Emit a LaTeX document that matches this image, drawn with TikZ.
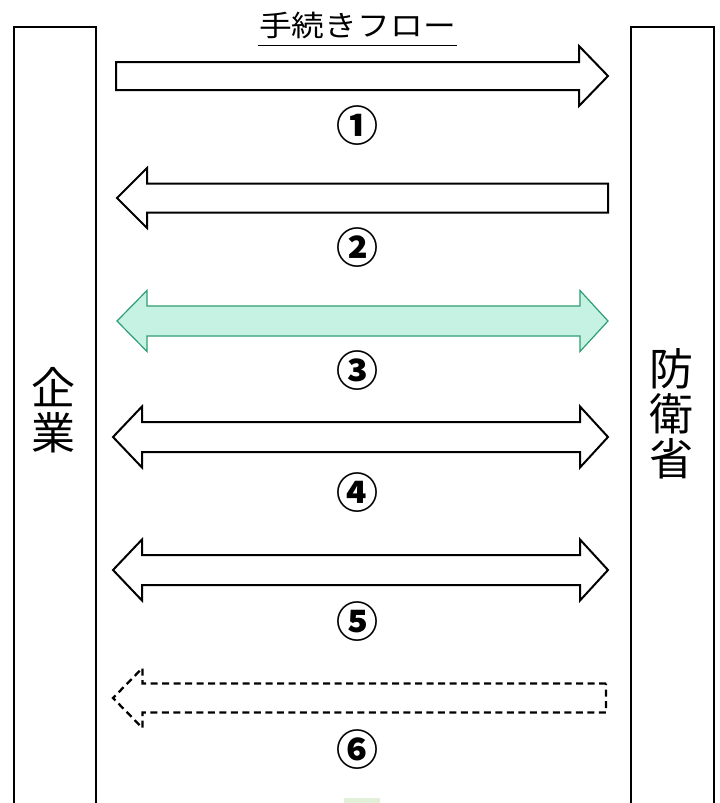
\documentclass[tikz,border=0pt]{standalone}
\usepackage{fontspec}
\setmainfont{Noto Sans CJK JP}
\definecolor{mintfill}{RGB}{198,242,227}
\definecolor{mintline}{RGB}{46,158,115}
\definecolor{palegreen}{RGB}{226,240,217}
\newcommand\myRightArrow[5]{% left, base, tip, y-center, style
  \draw[#5] (#1,#4-14) -- (#2,#4-14) -- (#2,#4-30) -- (#3,#4) -- (#2,#4+30) -- (#2,#4+14) -- (#1,#4+14) -- cycle;}
\newcommand\myLeftArrow[5]{% right, base, tip, y-center, style
  \draw[#5] (#1,#4-14.5) -- (#2,#4-14.5) -- (#2,#4-30) -- (#3,#4) -- (#2,#4+30) -- (#2,#4+14.5) -- (#1,#4+14.5) -- cycle;}
\newcommand\myDblArrow[6]{% ltip, lbase, rbase, rtip, y-center, style
  \draw[#6] (#1,#5) -- (#2,#5-30.5) -- (#2,#5-15) -- (#3,#5-15) -- (#3,#5-30.5) -- (#4,#5) -- (#3,#5+30.5) -- (#3,#5+15) -- (#2,#5+15) -- (#2,#5+30.5) -- cycle;}
\begin{document}
\begin{tikzpicture}[x=1pt,y=-1pt,
  blk/.style={draw=black,line width=2pt,line join=miter,fill=white},
  mint/.style={draw=mintline,line width=1.2pt,line join=miter,fill=mintfill},
  dsh/.style={draw=black,line width=2.3pt,line join=miter,dash pattern=on 7pt off 4.5pt},
  sidebox/.style={draw=black,line width=2pt,minimum width=82.5pt,minimum height=800pt,anchor=north west,inner sep=0pt},
  sidetext/.style={font=\fontsize{44}{45}\selectfont,align=center,inner sep=0pt},
  num/.style={font=\fontsize{42}{42}\selectfont\bfseries,inner sep=0pt}]
\useasboundingbox (0,0) rectangle (720,803);
\clip (0,0) rectangle (720,803);
\fill[white] (0,0) rectangle (720,803);
% side boxes
\node[sidebox] (kigyo) at (12.5,26) {};
\node[sidebox] (boei) at (630,26) {};
\node[sidetext] (kigyoT) at (53.5,410) {企\\業};
\node[sidetext] (boeiT) at (671,414) {防\\衛\\省};
% title
\node[inner sep=0pt,font=\fontsize{29}{29}\selectfont] (title) at (357.5,25) {\scalebox{1.13}[1]{手続きフロー}};
\draw[line width=1.4pt] (258,45.5) -- (457,45.5);
% arrows
\myRightArrow{116}{579}{608}{76}{blk}
\myLeftArrow{608}{147}{117}{198}{blk}
\myDblArrow{117}{147}{580}{608}{321}{mint}
\myDblArrow{113}{142}{580}{608}{437}{blk}
\myDblArrow{113}{142}{580}{608}{570}{blk}
\myLeftArrow{606}{142.5}{113}{698}{dsh}
% numbers
\node[num] (n1) at (357,126) {①};
\node[num] (n2) at (357,248) {②};
\node[num] (n3) at (357,371) {③};
\node[num] (n4) at (357,493) {④};
\node[num] (n5) at (357,622) {⑤};
\node[num] (n6) at (357,750) {⑥};
% small green patch at bottom
\fill[palegreen] (343.5,797.5) rectangle (380,803);
\end{tikzpicture}
\end{document}
